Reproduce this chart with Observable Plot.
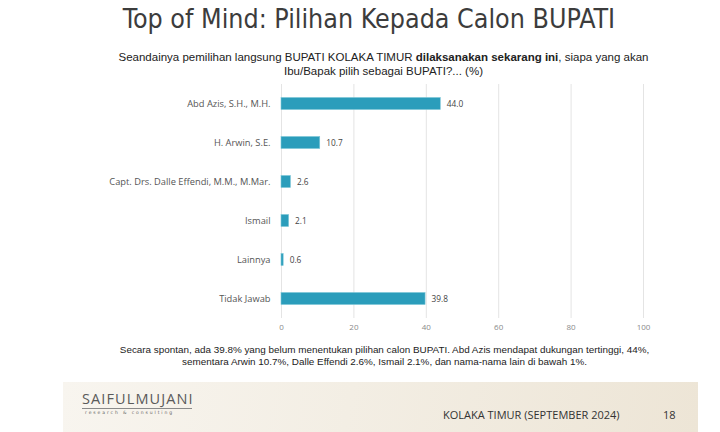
<!DOCTYPE html>
<html>
<head>
<meta charset="utf-8">
<script src="https://cdn.jsdelivr.net/npm/d3@7"></script>
<script src="https://cdn.jsdelivr.net/npm/@observablehq/plot@0.6"></script>
<style>
  html, body { margin: 0; padding: 0; background: #fff; }
  #page { position: relative; width: 720px; height: 432px; overflow: hidden; background: #fff; }
  .abs { position: absolute; }
  #title { left: 0; width: 738px; top: 5px; text-align: center; font-family: "Liberation Sans Narrow", "DejaVu Sans Condensed", sans-serif; font-stretch: condensed; font-size: 26.6px; line-height: 28px; color: #3c3c3c; }
  #subtitle { left: 0; width: 767px; top: 50px; text-align: center; font-family: "Liberation Sans", Arial, sans-serif; font-size: 11.5px; line-height: 14px; color: #222; }
  #chart { left: 0; top: 80px; }
  #caption { left: 0; width: 769px; top: 344px; text-align: center; font-family: "Liberation Sans", Arial, sans-serif; font-size: 9.9px; line-height: 12px; color: #222; }
  #band { left: 63px; top: 382px; width: 635px; height: 50px; background: linear-gradient(100deg, #f8f5ef 0%, #f3eee4 45%, #ede5d6 100%); }
  #logo { left: 82px; top: 391px; font-family: "Open Sans", sans-serif; font-size: 14.5px; letter-spacing: 1.1px; color: #5a5a5a; line-height: 16px; }
  #logoline { left: 82px; top: 408px; width: 110px; height: 1px; background: #8a8a8a; }
  #logosub { left: 85px; top: 410px; font-family: "DejaVu Sans", sans-serif; font-size: 4.5px; letter-spacing: 1.9px; color: #666; line-height: 6px; }
  #foot { left: 443px; top: 408px; font-family: "Open Sans", sans-serif; font-size: 11px; line-height: 14px; color: #333; }
  #pagenum { left: 663px; top: 408px; font-family: "Open Sans", sans-serif; font-size: 11px; line-height: 14px; color: #333; }
</style>
</head>
<body>
<div id="page">
  <div id="title" class="abs">Top of Mind: Pilihan Kepada Calon BUPATI</div>
  <div id="subtitle" class="abs">Seandainya pemilihan langsung BUPATI KOLAKA TIMUR <b>dilaksanakan sekarang ini</b>, siapa yang akan<br>Ibu/Bapak pilih sebagai BUPATI?... (%)</div>
  <div id="chart" class="abs"></div>
  <div id="caption" class="abs">Secara spontan, ada 39.8% yang belum menentukan pilihan calon BUPATI. Abd Azis mendapat dukungan tertinggi, 44%,<br>sementara Arwin 10.7%, Dalle Effendi 2.6%, Ismail 2.1%, dan nama-nama lain di bawah 1%.</div>
  <div id="band" class="abs"></div>
  <div id="logo" class="abs">SAIFULMUJANI</div>
  <div id="logoline" class="abs"></div>
  <div id="logosub" class="abs">research &amp; consulting</div>
  <div id="foot" class="abs">KOLAKA TIMUR (SEPTEMBER 2024)</div>
  <div id="pagenum" class="abs">18</div>
</div>
<script>
const candidates = ["Abd Azis, S.H., M.H.", "H. Arwin, S.E.", "Capt. Drs. Dalle Effendi, M.M., M.Mar.", "Ismail", "Lainnya", "Tidak Jawab"];
const values = [44.0, 10.7, 2.6, 2.1, 0.6, 39.8];
const xTicks = [0, 20, 40, 60, 80, 100];

const data = candidates.map((name, i) => ({name, value: values[i]}));

const chart = Plot.plot({
  width: 720,
  height: 260,
  marginLeft: 281,
  marginRight: 77,
  marginTop: 4,
  marginBottom: 22,
  style: {fontFamily: "'Open Sans', sans-serif", background: "transparent", overflow: "visible"},
  x: {domain: [0, 100], label: null},
  y: {domain: candidates, padding: 0, label: null},
  marks: [
    Plot.gridX(xTicks, {stroke: "#e4e4e4", strokeOpacity: 1, strokeWidth: 1}),
    Plot.barX(data, {x: "value", y: "name", fill: "#2b9dbb", stroke: "#7cc6d8", strokeWidth: 0.6, insetTop: 13.5, insetBottom: 13.5}),
    Plot.text(data, {x: "value", y: "name", text: d => d.value.toFixed(1), dx: 6, textAnchor: "start", fontSize: 8.3, fill: "#444"}),
    Plot.axisX(xTicks, {tickSize: 0, tickPadding: 6, fontSize: 8, color: "#8a8a8a", label: null}),
    Plot.axisY({tickSize: 0, tickPadding: 11, fontSize: 9.3, color: "#555", label: null})
  ]
});
document.getElementById("chart").appendChild(chart);
</script>
</body>
</html>
